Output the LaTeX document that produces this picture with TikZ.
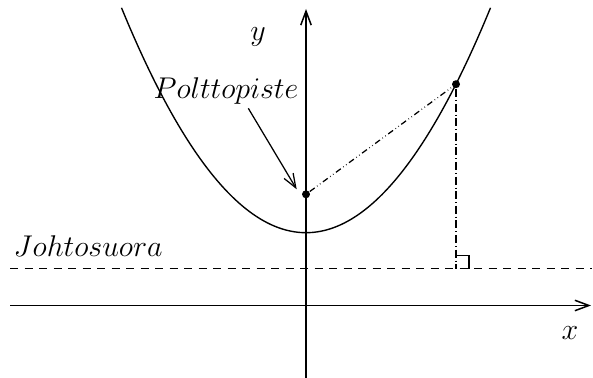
\documentclass[tikz,border=0pt]{standalone}
\usetikzlibrary{arrows.meta}
\begin{document}
\begin{tikzpicture}[x=0.4pt,y=-0.4pt,line width=0.6pt,
  font=\fontsize{12.3}{14}\selectfont,
  axis/.style={-{Straight Barb[length=5.6pt,width=4.2pt,line width=0.6pt]}},
  pointer/.style={-{Straight Barb[length=5.6pt,width=4.2pt,line width=0.5pt]},line width=0.5pt},
  dot/.style={circle,fill=black,inner sep=0pt,minimum size=3.2pt},
  lbl/.style={inner sep=0pt}]
\useasboundingbox (0,0) rectangle (593,378);
% axes
\coordinate (xs) at (10,305.5);
\coordinate (xe) at (591,305.5);
\coordinate (ys) at (306,378);
\coordinate (ye) at (306,9);
\draw[axis] (xs) -- (xe);
\draw[axis] (ys) -- (ye);
% directrix
\coordinate (ds) at (10,268.7);
\coordinate (de) at (592,268.7);
\draw[dash pattern=on 3.2pt off 2.6pt] (ds) -- (de);
% parabola
\draw[line width=0.55pt] plot[domain=121.5:490.5,samples=120,smooth] (\x,{232.7-0.0066*(\x-306)*(\x-306)});
% points
\node[dot] (F) at (306,194.3) {};
\node[dot] (P) at (456,84.2) {};
\coordinate (Q) at (456,268.7);
\draw[line width=0.5pt,dash pattern=on 2.4pt off 1.2pt on 0.24pt off 1.2pt on 0.24pt off 1.2pt] (F) -- (P);
\draw[line width=0.5pt,dash pattern=on 3.2pt off 1.2pt on 0.24pt off 1.2pt] (P) -- (Q);
% right angle mark
\coordinate (r1) at (456,255.5);
\coordinate (r2) at (469,255.5);
\coordinate (r3) at (469,268.7);
\draw[line width=0.5pt] (r1) -- (r2) -- (r3);
% labels
\node[lbl] (ylab) at (258,37) {$y$};
\node[lbl] (xlab) at (570,333) {$x$};
\node[lbl,anchor=base] (polt) at (226,99) {$Polttopiste$};
\node[lbl,anchor=base west] (joht) at (13,257) {$Johtosuora$};
\coordinate (a1) at (248.3,108.3);
\coordinate (a2) at (296.7,189.3);
\draw[pointer] (a1) -- (a2);
\end{tikzpicture}
\end{document}
